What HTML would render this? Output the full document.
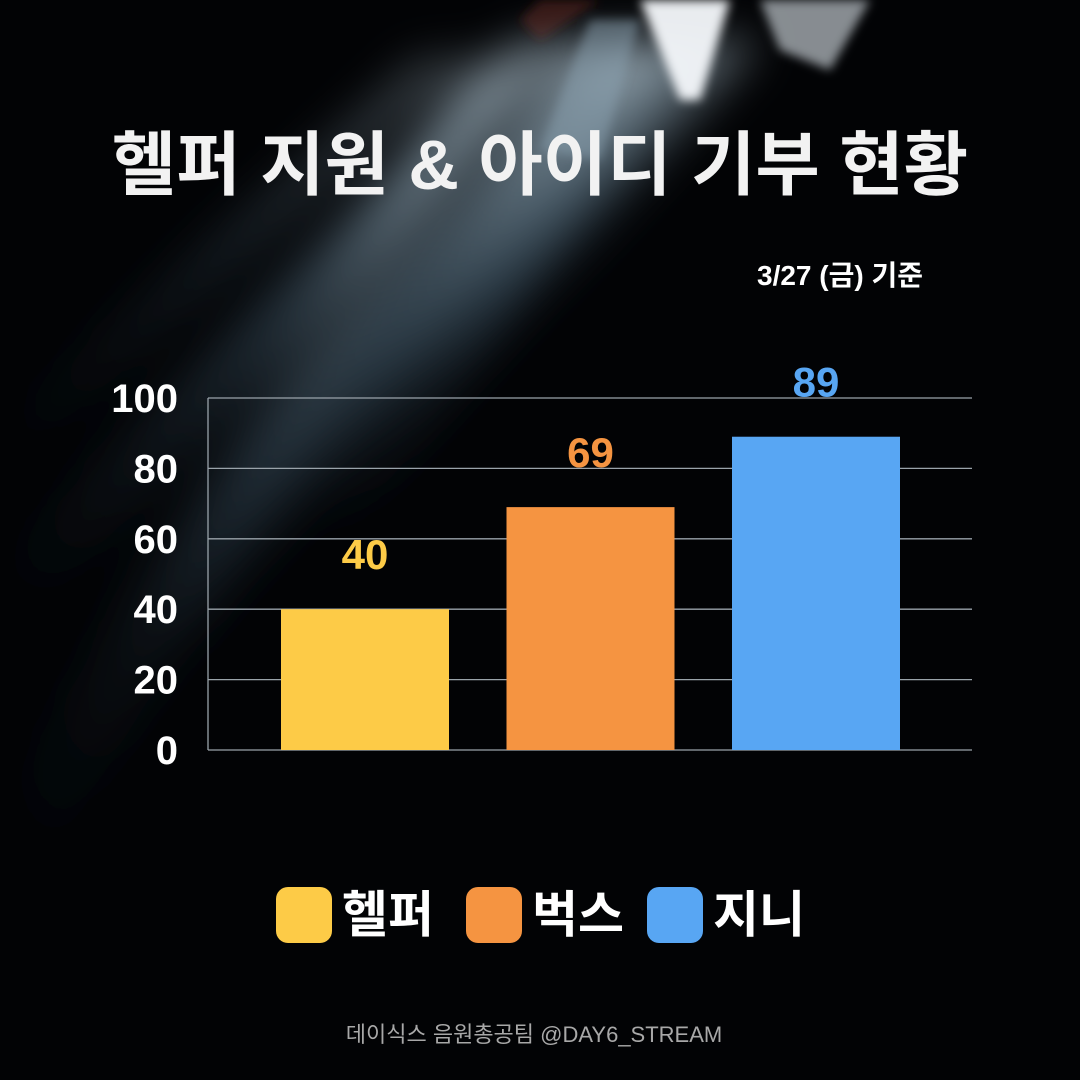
<!DOCTYPE html>
<html><head><meta charset="utf-8">
<style>
html,body{margin:0;padding:0;background:#000;}
#root{position:relative;width:1080px;height:1080px;overflow:hidden;background:#020305;font-family:"Liberation Sans","Noto Sans CJK KR",sans-serif;}
svg{position:absolute;left:0;top:0;}
</style></head>
<body>
<div id="root">
<svg id="chart" width="1080" height="1080" viewBox="0 0 1080 1080">
<defs>
<filter id="blur" x="-50%" y="-50%" width="200%" height="200%"><feGaussianBlur stdDeviation="22"/></filter>
<filter id="blur2" x="-50%" y="-50%" width="200%" height="200%"><feGaussianBlur stdDeviation="5"/></filter>
<linearGradient id="rayg" x1="1" y1="0" x2="0" y2="1">
<stop offset="0" stop-color="#c8dce8" stop-opacity="0.8"/>
<stop offset="0.5" stop-color="#5a7a90" stop-opacity="0.5"/>
<stop offset="1" stop-color="#1a2a38" stop-opacity="0"/>
</linearGradient>
</defs>
<g>
<g filter="url(#blur)">
<polygon points="580,40 660,40 200,640 110,640" fill="url(#rayg)" opacity="0.9"/>
<polygon points="640,40 700,40 360,520 290,520" fill="url(#rayg)" opacity="0.8"/>
<polygon points="520,40 580,40 30,620 0,560" fill="url(#rayg)" opacity="0.7"/>
<polygon points="470,60 530,60 40,880 0,880 0,800" fill="url(#rayg)" opacity="0.5"/>
<polygon points="690,40 760,40 470,380 400,380" fill="url(#rayg)" opacity="0.6"/>
<polygon points="420,60 470,60 0,480 0,420" fill="url(#rayg)" opacity="0.4"/>
</g>
<g filter="url(#blur2)">
<polygon points="640,0 730,0 700,100 680,100" fill="#f4f8fb" opacity="0.95"/>
<polygon points="760,0 870,0 830,70 780,50" fill="#e0e8ee" opacity="0.6"/>
<polygon points="590,20 640,20 600,160 540,150" fill="#8aa0b0" opacity="0.5"/>
<polygon points="540,0 600,0 540,40 520,20" fill="#7a3020" opacity="0.4"/>
</g>
</g>
<text x="540" y="189" text-anchor="middle" font-size="70" font-weight="bold" fill="#f2f2f2">헬퍼 지원 &amp; 아이디 기부 현황</text>
<text x="840" y="285" text-anchor="middle" font-size="28" font-weight="bold" fill="#ffffff">3/27 (금) 기준</text>
<g id="grid"></g>
<g id="bars"></g>
<g id="legend"></g>
<text x="534" y="1042" text-anchor="middle" font-size="22" fill="#a8a8a8">데이식스 음원총공팀 @DAY6_STREAM</text>
</svg>
</div>
<script>
const categories = ["헬퍼", "벅스", "지니"];
const values = [40, 69, 89];
const colors = ["#fdcb47", "#f59441", "#58a6f3"];
const yTicks = [0, 20, 40, 60, 80, 100];

const NS = "http://www.w3.org/2000/svg";
const X0 = 208, X1 = 972, Y0 = 750, Y1 = 398, YMAX = 100;
const y = v => Y0 - (v / YMAX) * (Y0 - Y1);
const barW = 168;
const xc = i => X0 + 157 + i * 225.5;
function mk(tag, attrs, parent) {
  const e = document.createElementNS(NS, tag);
  for (const k in attrs) e.setAttribute(k, attrs[k]);
  parent.appendChild(e);
  return e;
}
const grid = document.getElementById("grid");
yTicks.forEach(t => {
  const l = mk("line", {x1: X0, x2: X1, y1: y(t), y2: y(t), stroke: "#9aa3aa", "stroke-width": 1.3}, grid);
  
  
  const tx = mk("text", {x: 178, y: y(t) + 14, "text-anchor": "end", "font-size": 40, "font-weight": "bold", fill: "#ffffff"}, grid);
  tx.textContent = t;
  
  
});
const ax = mk("line", {x1: X0, x2: X0, y1: Y1, y2: Y0, stroke: "#9aa3aa", "stroke-width": 1.3}, grid);



const bars = document.getElementById("bars");
values.forEach((v, i) => {
  const r = mk("rect", {x: xc(i) - barW / 2, y: y(v), width: barW, height: Y0 - y(v), fill: colors[i]}, bars);
  
  
  const t = mk("text", {x: xc(i), y: y(v) - 40, "text-anchor": "middle", "font-size": 42, "font-weight": "bold", fill: colors[i]}, bars);
  t.textContent = v;
  
  
});

const legend = document.getElementById("legend");
const lx = [276, 466, 647];
categories.forEach((c, i) => {
  const r = mk("rect", {x: lx[i], y: 887, width: 56, height: 56, rx: 12, fill: colors[i]}, legend);
  
  
  const t = mk("text", {x: lx[i] + 66, y: 932, "font-size": 50, "font-weight": "bold", fill: "#ffffff"}, legend);
  t.textContent = c;
  
  
});
</script>
</body></html>
